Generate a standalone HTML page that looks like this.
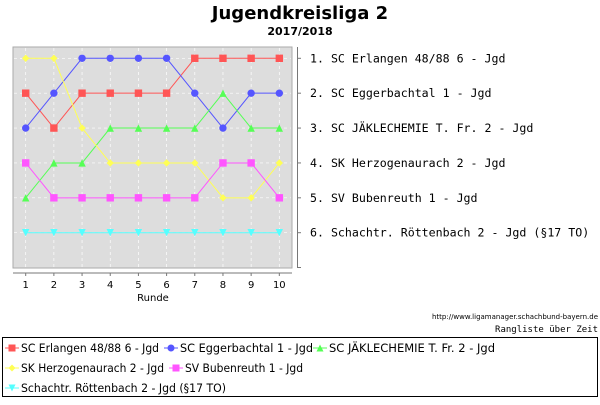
<!DOCTYPE html>
<html><head><meta charset="utf-8"><style>
body{margin:0;background:#fff;width:600px;height:400px;overflow:hidden;font-family:"Liberation Sans","DejaVu Sans",sans-serif}
</style></head><body>
<svg id="c" width="600" height="400" xmlns="http://www.w3.org/2000/svg">
<text x="300" y="19" text-anchor="middle" font-family="DejaVu Sans, sans-serif" font-weight="bold" font-size="18">Jugendkreisliga 2</text>
<text x="300" y="35" text-anchor="middle" font-family="DejaVu Sans, sans-serif" font-weight="bold" font-size="11">2017/2018</text>
<rect x="13" y="47" width="279" height="221" fill="#dddddd" stroke="#aaaaaa"/>
<g id="grid"></g>
<line x1="13" y1="273" x2="292" y2="273" stroke="#777"/>
<line x1="297.5" y1="47" x2="297.5" y2="268" stroke="#777"/>
<g id="marks"></g>
<text x="153" y="301" text-anchor="middle" font-family="DejaVu Sans, sans-serif" font-size="10">Runde</text>
<text x="598" y="319" text-anchor="end" font-family="DejaVu Sans, sans-serif" font-size="7">http://www.ligamanager.schachbund-bayern.de</text>
<text x="598" y="332" text-anchor="end" font-family="DejaVu Sans Mono, monospace" font-size="9">Rangliste über Zeit</text>
<rect x="2.5" y="337.5" width="595" height="59" fill="#fff" stroke="#000"/>
<g id="legend"></g>
</svg>
<script>
const rounds=[1,2,3,4,5,6,7,8,9,10];
const teams=["SC Erlangen 48/88 6 - Jgd","SC Eggerbachtal 1 - Jgd","SC JÄKLECHEMIE T. Fr. 2 - Jgd","SK Herzogenaurach 2 - Jgd","SV Bubenreuth 1 - Jgd","Schachtr. Röttenbach 2 - Jgd (§17 TO)"];
const red=[2,3,2,2,2,2,1,1,1,1];
const blue=[3,2,1,1,1,1,2,3,2,2];
const green=[5,4,4,3,3,3,3,2,3,3];
const yellow=[1,1,3,4,4,4,4,5,5,4];
const magenta=[4,5,5,5,5,5,5,4,4,5];
const cyan=[6,6,6,6,6,6,6,6,6,6];
const rankLabels=["1. SC Erlangen 48/88 6 - Jgd","2. SC Eggerbachtal 1 - Jgd","3. SC JÄKLECHEMIE T. Fr. 2 - Jgd","4. SK Herzogenaurach 2 - Jgd","5. SV Bubenreuth 1 - Jgd","6. Schachtr. Röttenbach 2 - Jgd (§17 TO)"];
const series=[red,blue,green,yellow,magenta,cyan];
const colors=["#ff5555","#5555ff","#55ff55","#ffff55","#ff55ff","#55ffff"];
const shapes=["square","circle","up","diamond","square","down"];
const NS="http://www.w3.org/2000/svg";
const x=r=>25.7+(r-1)*28.18;
const y=k=>58.3+(k-1)*34.88;
function mk(t,a,p){const e=document.createElementNS(NS,t);for(const k in a)e.setAttribute(k,a[k]);p.appendChild(e);return e;}
const grid=document.getElementById('grid'),marks=document.getElementById('marks'),svg=document.getElementById('c'),leg=document.getElementById('legend');
rounds.forEach(r=>{const l=mk('line',{x1:x(r),x2:x(r),y1:48,y2:267,stroke:'#fff','stroke-dasharray':'3,3','stroke-width':0.7},grid);


mk('line',{x1:x(r),x2:x(r),y1:273,y2:276,stroke:'#777'},grid);
const t=mk('text',{x:x(r),y:288,'text-anchor':'middle','font-size':10,'font-family':'DejaVu Sans, sans-serif'},svg);t.textContent=r;

});
rankLabels.forEach((s,i)=>{const k=i+1;const l=mk('line',{x1:14,x2:291,y1:y(k),y2:y(k),stroke:'#fff','stroke-dasharray':'3,3','stroke-width':0.7},grid);


mk('line',{x1:297,x2:301,y1:y(k),y2:y(k),stroke:'#777'},grid);
const t=mk('text',{x:310,y:y(k)+4,'font-size':11.6,'font-family':'DejaVu Sans Mono, monospace'},svg);t.textContent=s;

});
mk('line',{x1:297,x2:301,y1:267.5,y2:267.5,stroke:'#777'},grid);
function marker(s,cx,cy,c,p,sz){let e;
if(s==='square')e=mk('rect',{x:cx-sz,y:cy-sz,width:2*sz,height:2*sz,fill:c},p);
else if(s==='circle')e=mk('circle',{cx,cy,r:sz,fill:c},p);
else if(s==='up')e=mk('polygon',{points:`${cx},${cy-sz} ${cx+sz},${cy+sz} ${cx-sz},${cy+sz}`,fill:c},p);
else if(s==='down')e=mk('polygon',{points:`${cx-sz},${cy-sz} ${cx+sz},${cy-sz} ${cx},${cy+sz}`,fill:c},p);
else e=mk('polygon',{points:`${cx},${cy-sz} ${cx+sz},${cy} ${cx},${cy+sz} ${cx-sz},${cy}`,fill:c},p);
return e;}
series.forEach((d,i)=>{const pl=mk('polyline',{points:d.map((v,j)=>x(rounds[j])+','+y(v)).join(' '),fill:'none',stroke:colors[i],'stroke-width':1},marks);


d.forEach((v,j)=>{const m=marker(shapes[i],x(rounds[j]),y(v),colors[i],marks,3.7);

});});
const lpos=[[8,352],[167,352],[316,352],[8,372],[172,372],[8,392]];
const lw=[138,133,166,143,118,205];
teams.forEach((s,i)=>{const [lx,ly]=lpos[i];const g=mk('g',{},leg);


mk('line',{x1:lx-3,x2:lx+11,y1:ly-4,y2:ly-4,stroke:colors[i]},g);
marker(shapes[i],lx+4,ly-4,colors[i],g,3.5);
const t=mk('text',{x:lx+13,y:ly,'font-size':11.5,'font-family':'DejaVu Sans, sans-serif',textLength:lw[i],lengthAdjust:'spacingAndGlyphs'},g);t.textContent=s;});
</script>
</body></html>
